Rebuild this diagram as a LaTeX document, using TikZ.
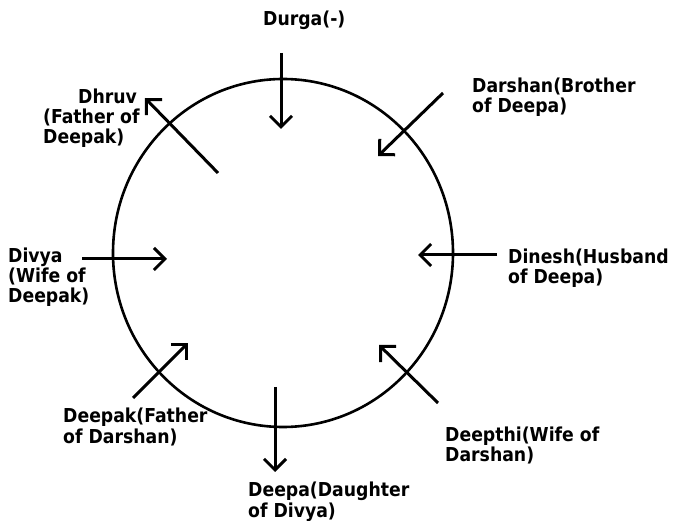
\documentclass[tikz,border=0pt]{standalone}
\usepackage{fontspec}
\setmainfont{DejaVu Sans Condensed}
\usetikzlibrary{arrows.meta}
\tikzset{
  lbl/.style={anchor=base west,inner sep=0pt,align=left,font=\bfseries\fontsize{19.2}{20.3}\selectfont},
  arr/.style={line width=3pt,-{Straight Barb[length=11pt,width=22pt]}}
}
\begin{document}
\begin{tikzpicture}[x=1pt,y=-1pt]
\useasboundingbox (0,0) rectangle (678,521);
\draw[line width=2.6pt] (283,253) ellipse [x radius=170pt,y radius=174pt];
\node[lbl] (durga) at (263,26) {Durga(-)};
\node[lbl] (dhruv) at (43,144) {\hspace*{35pt}Dhruv\\(Father of\\Deepak)};
\node[lbl] (darshan) at (472,113) {Darshan(Brother\\of Deepa)};
\node[lbl] (divya) at (8,303) {Divya\\(Wife of\\Deepak)};
\node[lbl] (dinesh) at (508,284) {Dinesh(Husband\\of Deepa)};
\node[lbl] (deepak) at (63,443) {Deepak(Father\\of Darshan)};
\node[lbl] (deepthi) at (445,462) {Deepthi(Wife of\\Darshan)};
\node[lbl] (deepa) at (248,517) {Deepa(Daughter\\of Divya)};
\coordinate (durgaS) at (281,53);
\coordinate (durgaE) at (281,129);
\coordinate (darshanS) at (443,93);
\coordinate (darshanE) at (378,156);
\coordinate (dineshS) at (497,255);
\coordinate (dineshE) at (418,255);
\coordinate (deepthiS) at (438,403);
\coordinate (deepthiE) at (379,345);
\coordinate (deepaS) at (275,387);
\coordinate (deepaE) at (275,472);
\coordinate (deepakS) at (133,398);
\coordinate (deepakE) at (188,343);
\coordinate (divyaS) at (82,259);
\coordinate (divyaE) at (167,259);
\coordinate (dhruvS) at (218,173);
\coordinate (dhruvE) at (145,98);
\draw[arr] (durgaS)--(durgaE);
\draw[arr] (darshanS)--(darshanE);
\draw[arr] (dineshS)--(dineshE);
\draw[arr] (deepthiS)--(deepthiE);
\draw[arr] (deepaS)--(deepaE);
\draw[arr] (deepakS)--(deepakE);
\draw[arr] (divyaS)--(divyaE);
\draw[arr] (dhruvS)--(dhruvE);
\end{tikzpicture}
\end{document}
